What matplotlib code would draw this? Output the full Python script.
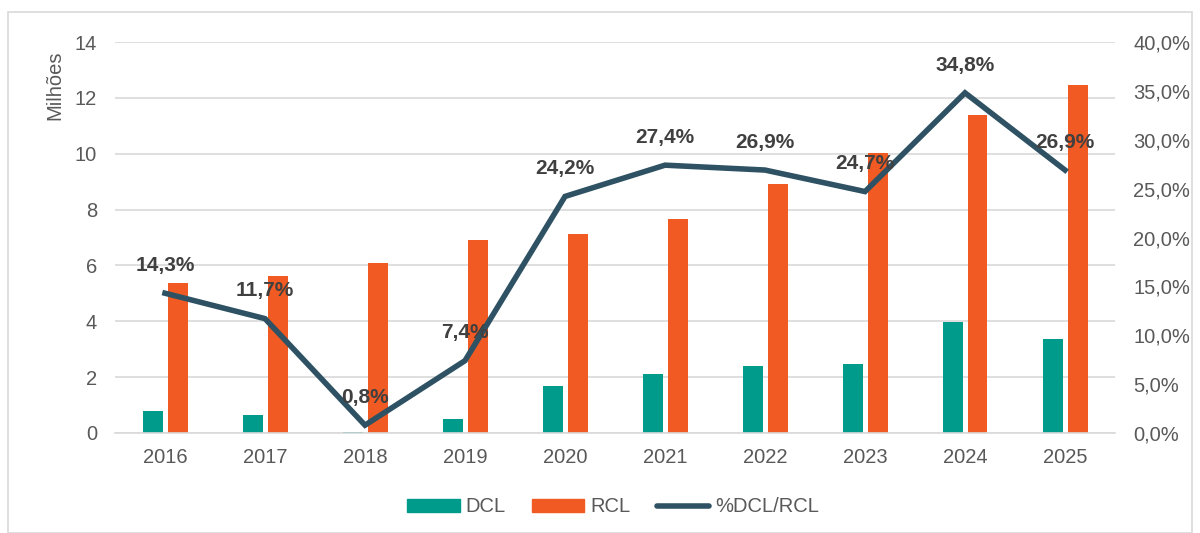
"""DCL x RCL, 2016-2025"""
import matplotlib
matplotlib.use("Agg")
import matplotlib.pyplot as plt
from matplotlib.lines import Line2D
from matplotlib.patches import Patch, Rectangle
from matplotlib.ticker import FuncFormatter, MultipleLocator
import numpy as np

plt.rcParams['font.family'] = ['Liberation Sans', 'DejaVu Sans']

years = ['2016', '2017', '2018', '2019', '2020', '2021', '2022', '2023', '2024', '2025']
dcl = [0.77, 0.65, 0.05, 0.51, 1.70, 2.10, 2.40, 2.48, 3.96, 3.35]
rcl = [5.37, 5.62, 6.08, 6.90, 7.12, 7.68, 8.93, 10.04, 11.38, 12.46]
pct = [14.3, 11.7, 0.8, 7.4, 24.2, 27.4, 26.9, 24.7, 34.8, 26.9]

teal = '#009B8A'
orange = '#F15A22'
navy = '#2E5263'
grey = '#595959'
fs = 14.5

fig = plt.figure(figsize=(12, 5.33), dpi=100, facecolor='w')
fig.patches.append(Rectangle((8 / 1200, 0), 1184 / 1200, 1 - 12 / 533,
                             transform=fig.transFigure, fill=False,
                             ec='#D9D9D9', lw=1.2))

ax = fig.add_axes([115 / 1200, 100 / 533, 1000 / 1200, 391 / 533])
x = np.arange(len(years))
w = 0.2
ax.bar(x - 0.125, dcl, w, color=teal, zorder=2)
ax.bar(x + 0.125, rcl, w, color=orange, zorder=2)
ax.set_xlim(-0.5, len(years) - 0.5)
ax.set_ylim(0, 14)
ax.yaxis.set_major_locator(MultipleLocator(2))
ax.set_xticks(x, years)
ax.grid(axis='y', color='#D9D9D9', lw=1.2, zorder=0)
ax.set_axisbelow(True)
for s in ax.spines.values():
    s.set_visible(False)
ax.spines['bottom'].set_visible(True)
ax.spines['bottom'].set_color('#D9D9D9')
ax.spines['bottom'].set_linewidth(1.2)
ax.tick_params(length=0, labelsize=fs, colors=grey, pad=13)
ax.tick_params(axis='x', pad=11)
fig.text(55 / 1200, 1 - 85 / 533, 'Milhões', rotation=90, fontsize=fs,
         color=grey, ha='center', va='center')

ax2 = ax.twinx()
ax2.plot(x, pct, color=navy, lw=4, zorder=3, solid_joinstyle='miter')
ax2.set_ylim(0, 40)
ax2.yaxis.set_major_locator(MultipleLocator(5))
ax2.yaxis.set_major_formatter(FuncFormatter(lambda v, p: f'{v:.1f}%'.replace('.', ',')))
ax2.tick_params(length=0, labelsize=fs, colors=grey, pad=13)
for s in ax2.spines.values():
    s.set_visible(False)

for xi, p in zip(x, pct):
    ax2.annotate(f'{p:.1f}%'.replace('.', ','), (xi, p), xytext=(0, 20),
                 textcoords='offset points', ha='center', va='center',
                 fontsize=15, fontweight='bold', color='#404040', zorder=4)

handles = [Patch(color=teal, label='DCL'), Patch(color=orange, label='RCL'),
           Line2D([], [], color=navy, lw=4, label='%DCL/RCL', solid_capstyle='round')]
fig.legend(handles=handles, loc='center', bbox_to_anchor=(613 / 1200, 1 - 507 / 533),
           ncol=3, frameon=False, fontsize=fs, labelcolor=grey,
           handlelength=2.6, handleheight=0.6, columnspacing=1.3, handletextpad=0.3)

plt.savefig('out.png', dpi=100, facecolor='w')
